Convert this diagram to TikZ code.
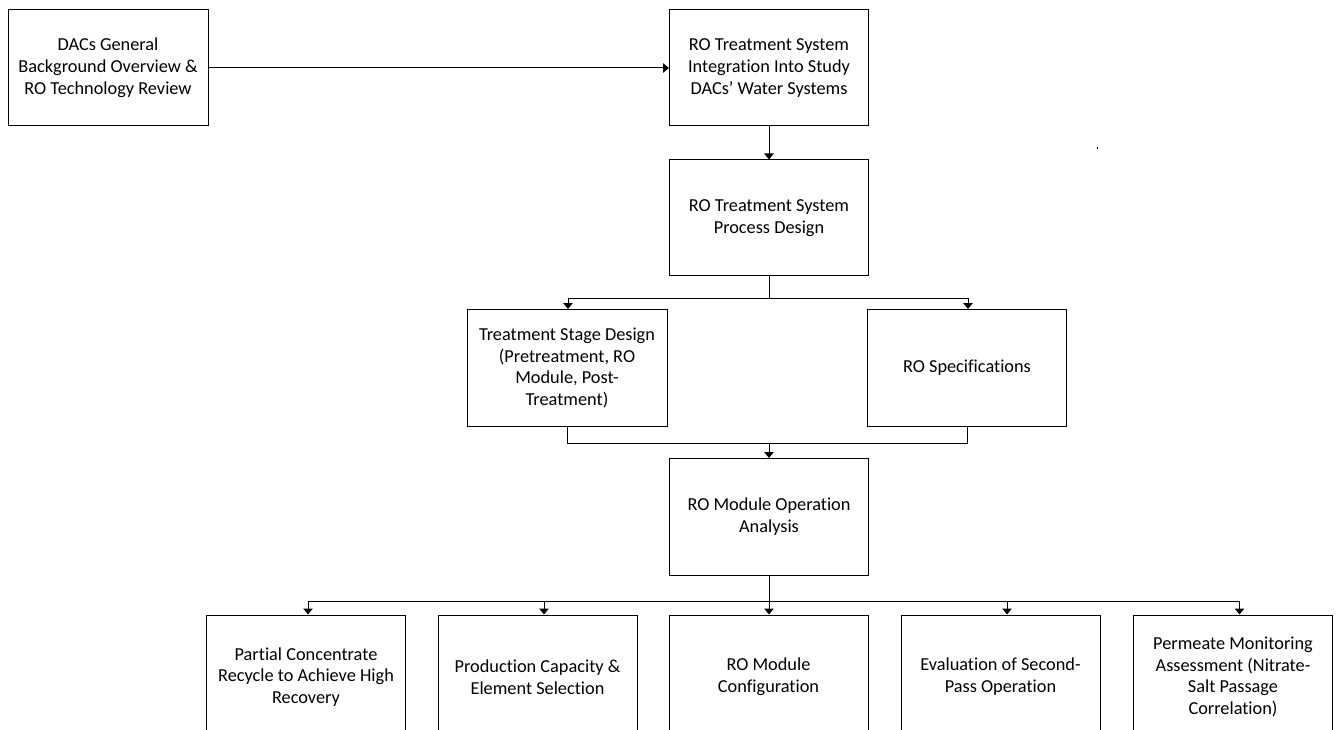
\documentclass[tikz,border=0pt]{standalone}
\usepackage{fontspec}
\setmainfont{Carlito}[Ligatures=NoCommon]
\usepackage{tikz}
\usetikzlibrary{arrows.meta,positioning}

\begin{document}
\begin{tikzpicture}[x=1pt,y=-1pt,
    stepbox/.style={draw,line width=1pt,minimum width=199pt,minimum height=117pt,
        inner sep=0pt,align=center,font=\fontsize{18.3}{21.8}\selectfont},
    arr/.style={line width=1pt,-{Triangle[width=9.5pt,length=6pt]}},
    lnk/.style={line width=1pt}]
    \useasboundingbox (0,0) rectangle (1342,730);
    \clip (0,0) rectangle (1342,730);

    % Top row
    \node[stepbox,minimum width=200pt,minimum height=116pt] (review) at (108,68)
        {DACs General\\Background Overview \&\\RO Technology Review};
    \node[stepbox,minimum height=116pt] (integr) at (769,68)
        {RO Treatment System\\Integration Into Study\\DACs’ Water Systems};
    \node[stepbox,minimum height=116pt] (process) at (769,218)
        {RO Treatment System\\Process Design};

    % Middle row
    \node[stepbox,minimum width=200pt] (stage) at (567,368)
        {Treatment Stage Design\\(Pretreatment, RO\\Module, Post-\\Treatment)};
    \node[stepbox] (spec) at (967,368) {RO Specifications};
    \node[stepbox] (oper) at (769,517) {RO Module Operation\\Analysis};

    % Bottom row (runs off the page)
    \node[stepbox,minimum height=124pt] (recyc) at (306,677)
        {Partial Concentrate\\Recycle to Achieve High\\Recovery};
    \node[stepbox,minimum height=124pt] (capac) at (537.5,677)
        {Production Capacity \&\\Element Selection};
    \node[stepbox,minimum height=124pt] (config) at (768.5,677)
        {RO Module\\Configuration};
    \node[stepbox,minimum height=124pt] (second) at (1000.5,677)
        {Evaluation of Second-\\Pass Operation};
    \node[stepbox,minimum height=124pt] (monit) at (1233,677)
        {Permeate Monitoring\\Assessment (Nitrate-\\Salt Passage\\Correlation)};

    % Branch points
    \coordinate (splitA) at (769,298.5);
    \coordinate (joinB) at (769,443);
    \coordinate (splitC) at (769,601);

    % Connectors
    \draw[arr] (review.east) -- (integr.west);
    \draw[arr] (integr.south) -- (process.north);
    \draw[lnk] (process.south) -- (splitA);
    \draw[arr] (splitA) -| ([xshift=1pt]stage.north);
    \draw[arr] (splitA) -| ([xshift=1pt]spec.north);
    \draw[lnk] (stage.south) |- (joinB);
    \draw[lnk] (spec.south) |- (joinB);
    \draw[arr] (joinB) -- (oper.north);
    \draw[lnk] (oper.south) -- (splitC);
    \foreach \b/\s in {recyc/2,capac/6.5,config/0.5,second/6.5,monit/6.5} {
        \draw[arr] (splitC) -| ([xshift=\s pt]\b.north);
    }

    % stray mark
    \fill (1096.5,147.5) rectangle (1098,149);
\end{tikzpicture}
\end{document}
